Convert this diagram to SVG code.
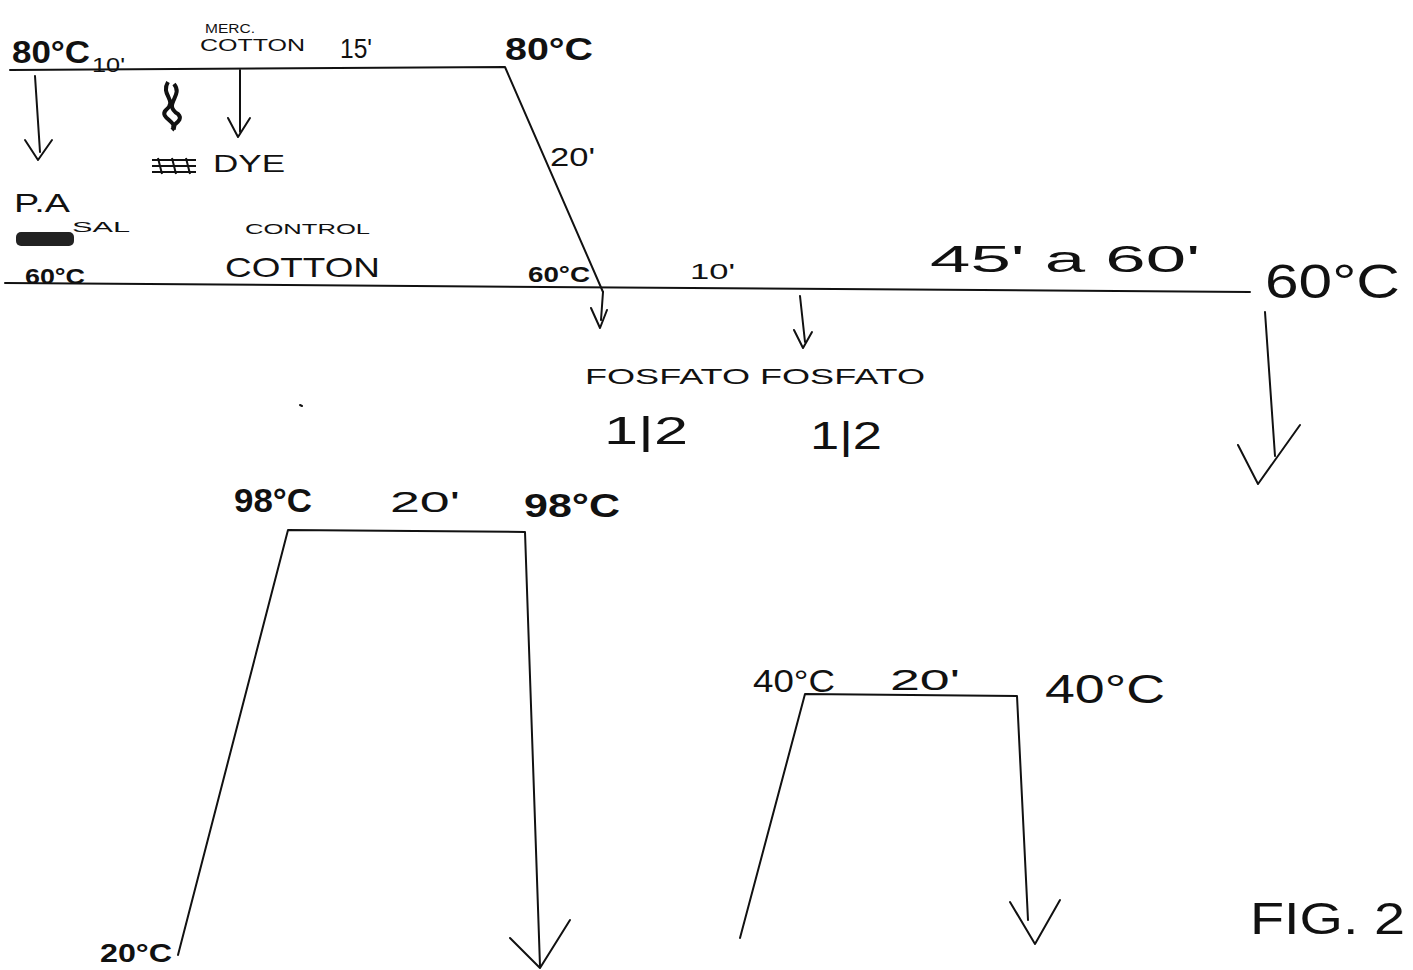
<svg xmlns="http://www.w3.org/2000/svg" width="1413" height="970" viewBox="0 0 1413 970">
<style>
.ln{fill:none;stroke:#111;stroke-width:2;stroke-linecap:round;stroke-linejoin:round}
.t{font-family:"Liberation Sans",Arial,sans-serif;fill:#111}
.b{font-weight:bold}
</style>
<rect width="1413" height="970" fill="#fff"/>
<g id="connectors">
  <path class="ln" d="M10,70 L505,67 L603,292"/>
  <path class="ln" d="M5,283 L1250,292"/>
  <path class="ln" d="M35,76 L40,152 M25,140 L38,160 L52,140"/>
  <path class="ln" d="M240,70 L240,132 M228,118 L238,137 L250,118"/>
  <path class="ln" d="M603,292 L601,320 M591,308 L600,328 L607,310"/>
  <path class="ln" d="M800,296 L805,342 M794,330 L803,348 L812,332"/>
  <path class="ln" d="M1265,312 L1275,456 M1238,445 L1258,484 L1300,425"/>
  <path class="ln" d="M178,955 L288,530 L525,532 L540,966 M510,938 L540,968 L570,920"/>
  <path class="ln" d="M740,938 L805,694 L1017,696 L1028,920 M1010,902 L1035,944 L1060,900"/>
  <path class="ln" d="M300,405 L302,406"/>
</g>
<g id="node-scribbles">
  <path d="M168,82 C160,95 178,100 166,110 C158,118 180,122 172,130 M174,84 C184,96 162,104 178,114 C186,122 166,126 176,128" fill="none" stroke="#111" stroke-width="4"/>
  <path d="M152,160 L196,160 M152,166 L196,166 M152,172 L196,172 M158,158 L162,174 M172,158 L176,174 M186,158 L190,174" fill="none" stroke="#111" stroke-width="2"/>
  <rect x="16" y="232" width="58" height="14" rx="5" fill="#222"/>
</g>
<g id="node-top">
  <text class="t b" x="12" y="63" font-size="32" textLength="78" lengthAdjust="spacingAndGlyphs">80°C</text>
  <text class="t" x="92" y="72" font-size="20" textLength="33" lengthAdjust="spacingAndGlyphs">10'</text>
  <text class="t" x="205" y="33" font-size="12" textLength="50" lengthAdjust="spacingAndGlyphs">MERC.</text>
  <text class="t" x="200" y="51" font-size="16" textLength="105" lengthAdjust="spacingAndGlyphs">COTTON</text>
  <text class="t" x="340" y="58" font-size="28" textLength="32" lengthAdjust="spacingAndGlyphs">15'</text>
  <text class="t b" x="505" y="60" font-size="32" textLength="88" lengthAdjust="spacingAndGlyphs">80°C</text>
  <text class="t" x="550" y="166" font-size="26" textLength="45" lengthAdjust="spacingAndGlyphs">20'</text>
</g>
<g id="node-dye">
  <text class="t" x="213" y="172" font-size="24" textLength="72" lengthAdjust="spacingAndGlyphs">DYE</text>
  <text class="t" x="14" y="212" font-size="26" textLength="56" lengthAdjust="spacingAndGlyphs">P.A</text>
  <text class="t" x="72" y="232" font-size="14" textLength="58" lengthAdjust="spacingAndGlyphs">SAL</text>
  <text class="t b" x="25" y="284" font-size="22" textLength="60" lengthAdjust="spacingAndGlyphs">60°C</text>
</g>
<g id="node-control">
  <text class="t" x="245" y="234" font-size="15" textLength="125" lengthAdjust="spacingAndGlyphs">CONTROL</text>
  <text class="t" x="225" y="277" font-size="28" textLength="155" lengthAdjust="spacingAndGlyphs">COTTON</text>
  <text class="t b" x="528" y="282" font-size="22" textLength="62" lengthAdjust="spacingAndGlyphs">60°C</text>
</g>
<g id="node-middle">
  <text class="t" x="690" y="279" font-size="22" textLength="45" lengthAdjust="spacingAndGlyphs">10'</text>
  <text class="t" x="930" y="272" font-size="36" textLength="270" lengthAdjust="spacingAndGlyphs">45' a 60'</text>
  <text class="t" x="1265" y="298" font-size="48" textLength="135" lengthAdjust="spacingAndGlyphs">60°C</text>
  <text class="t" x="585" y="384" font-size="22" textLength="340" lengthAdjust="spacingAndGlyphs">FOSFATO FOSFATO</text>
  <text class="t" x="604" y="444" font-size="38" textLength="84" lengthAdjust="spacingAndGlyphs">1|2</text>
  <text class="t" x="810" y="449" font-size="38" textLength="72" lengthAdjust="spacingAndGlyphs">1|2</text>
</g>
<g id="node-98">
  <text class="t b" x="234" y="512" font-size="34" textLength="78" lengthAdjust="spacingAndGlyphs">98°C</text>
  <text class="t" x="390" y="512" font-size="30" textLength="70" lengthAdjust="spacingAndGlyphs">20'</text>
  <text class="t b" x="524" y="517" font-size="34" textLength="96" lengthAdjust="spacingAndGlyphs">98°C</text>
  <text class="t b" x="100" y="962" font-size="26" textLength="72" lengthAdjust="spacingAndGlyphs">20°C</text>
</g>
<g id="node-40">
  <text class="t" x="753" y="692" font-size="32" textLength="82" lengthAdjust="spacingAndGlyphs">40°C</text>
  <text class="t" x="890" y="690" font-size="30" textLength="70" lengthAdjust="spacingAndGlyphs">20'</text>
  <text class="t" x="1045" y="703" font-size="40" textLength="120" lengthAdjust="spacingAndGlyphs">40°C</text>
</g>
<g id="node-fig">
  <text class="t" x="1250" y="934" font-size="44" textLength="155" lengthAdjust="spacingAndGlyphs">FIG. 2</text>
</g>
</svg>
